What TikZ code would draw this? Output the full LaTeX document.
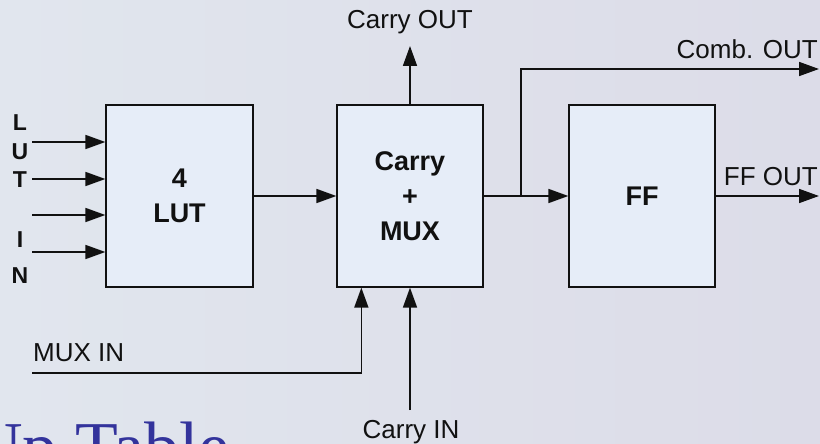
\documentclass[tikz,border=0pt]{standalone}
\usepackage{fontspec}
\setmainfont{Liberation Sans}
\newfontfamily\slidefont{Liberation Serif}
\usepackage{xcolor}
\usepackage{tikz}
\usetikzlibrary{arrows.meta,positioning,calc}
\definecolor{cInk}{HTML}{111111}
\definecolor{cBoxFill}{HTML}{E6EDF8}
\definecolor{cBgLeft}{HTML}{E1E6EE}
\definecolor{cBgRight}{HTML}{DCDCE8}
\definecolor{cTitle}{HTML}{33339C}
\tikzset{
  blk/.style={draw=cInk,fill=cBoxFill,line width=1.3pt,minimum width=146pt,minimum height=182pt,inner sep=0pt,align=center,
    font=\fontsize{27}{35}\selectfont\bfseries,text=cInk},
  arr/.style={-{Triangle[length=20pt,width=14pt]},line width=1.7pt,color=cInk},
  sig/.style={font=\fontsize{26}{30}\selectfont,text=cInk,inner sep=0pt},
  pin/.style={font=\fontsize{23}{24}\selectfont\bfseries,text=cInk,inner sep=0pt},
}
\begin{document}
\begin{tikzpicture}[x=1pt,y=-1pt]
  \shade[left color=cBgLeft,right color=cBgRight] (0,0) rectangle (820,444);
  \useasboundingbox (0,0) rectangle (820,444);
  \clip (0,0) rectangle (820,444);
  % slide title, cut off by the frame
  \node[anchor=base west,inner sep=0pt,font=\slidefont\fontsize{70}{80}\selectfont,text=cTitle] (title) at (-28,470) {Up Table};
  % blocks
  \node[blk,minimum width=147pt] (lut) at (179.5,196) {4\\LUT};
  \node[blk] (mux) at (410,196) {Carry\\+\\MUX};
  \node[blk] (ff)  at (642,196) {FF};
  % LUT inputs
  \foreach \yy [count=\i] in {142,179,215,252}
    \coordinate (in\i) at (32,\yy);
  \foreach \i in {1,...,4}
    \draw[arr] (in\i) -- (in\i -| lut.west);
  \node[pin] (pL) at (20,123) {L};
  \node[pin] (pU) at (20,152) {U};
  \node[pin] (pT) at (20,180) {T};
  \node[pin] (pI) at (20,240) {I};
  \node[pin] (pN) at (20,276) {N};
  % data path
  \draw[arr] (lut.east) -- (mux.west);
  \draw[arr] (mux.east) -- (ff.west);
  \coordinate (br) at (521,196);
  \coordinate (comb) at (819,69);
  \draw[arr] (br) |- (comb);
  \coordinate (ffo) at (819,196);
  \draw[arr] (ff.east) -- (ffo);
  \node[sig,anchor=east] (combl) at (818,49) {Comb. OUT};
  \node[sig,anchor=east] (ffl) at (818,177) {FF OUT};
  % carry chain
  \coordinate (cout) at (410,46);
  \draw[arr] (mux.north) -- (cout);
  \node[sig] (coutl) at (410,22) {Carry OUT};
  \coordinate (cin) at (410,410);
  \draw[arr] (cin) -- (mux.south);
  \node[sig] (cinl) at (411,432) {Carry IN};
  % mux select
  \coordinate (mxin) at (32,373);
  \draw[arr] (mxin) -| ($(mux.south west)+(25,0)$);
  \node[sig,anchor=west] (mxl) at (33,353) {MUX IN};
\end{tikzpicture}
\end{document}
